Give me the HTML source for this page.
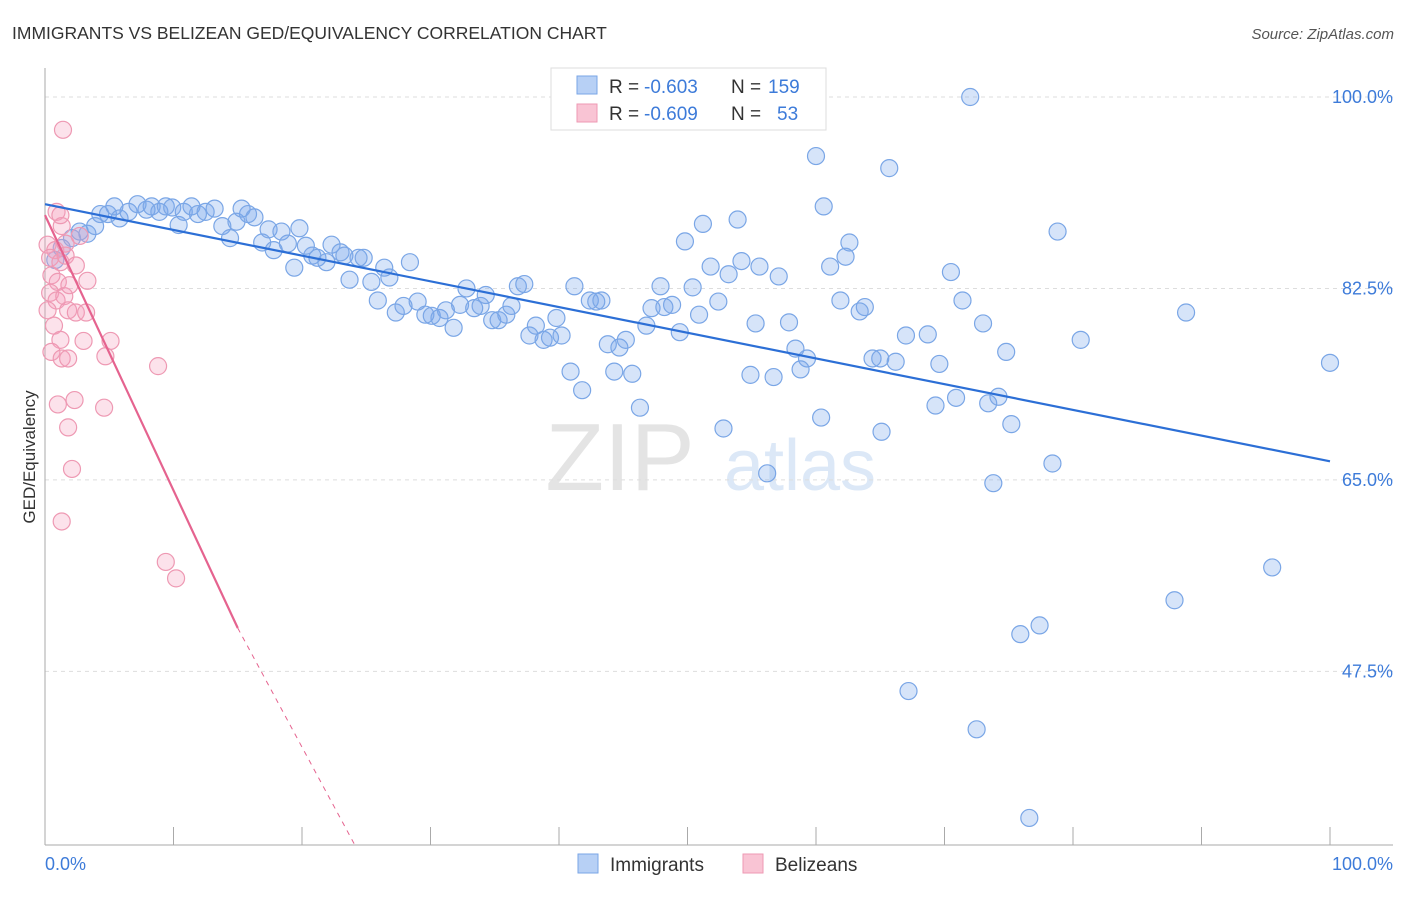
<!DOCTYPE html>
<html><head><meta charset="utf-8"><style>
body{margin:0;background:#fff;font-family:"Liberation Sans",sans-serif;}
svg text{font-family:"Liberation Sans",sans-serif;}
</style></head><body>
<svg id="c" width="1406" height="892" xmlns="http://www.w3.org/2000/svg">
<text x="12" y="39" font-size="17.5" fill="#333">IMMIGRANTS VS BELIZEAN GED/EQUIVALENCY CORRELATION CHART</text>
<text x="1394" y="39" font-size="15" fill="#555" text-anchor="end" font-style="italic">Source: ZipAtlas.com</text>
<text x="620" y="490" font-size="96" fill="#e4e4e4" font-family="Liberation Serif" text-anchor="middle">ZIP</text>
<text x="800" y="490" font-size="72" fill="#dce8f7" text-anchor="middle">atlas</text>
<g id="grid"></g><g id="axes"></g><g id="pts"></g><g id="trend"></g>
<text transform="translate(35,457) rotate(-90)" font-size="17" fill="#333" text-anchor="middle">GED/Equivalency</text>
<g>
<rect x="551" y="68" width="275" height="62" fill="#fff" stroke="#ddd"/>
<rect x="577" y="76" width="20" height="18" fill="#b7d0f5" stroke="#7aa6e6"/>
<rect x="577" y="104" width="20" height="18" fill="#f9c4d4" stroke="#ee99b3"/>
<text x="609" y="93" font-size="19" fill="#333">R =</text>
<text x="644" y="93" font-size="19" fill="#3d7bd9">-0.603</text>
<text x="731" y="93" font-size="19" fill="#333">N =</text>
<text x="768" y="93" font-size="19" fill="#3d7bd9">159</text>
<text x="609" y="120" font-size="19" fill="#333">R =</text>
<text x="644" y="120" font-size="19" fill="#3d7bd9">-0.609</text>
<text x="731" y="120" font-size="19" fill="#333">N =</text>
<text x="777" y="120" font-size="19" fill="#3d7bd9">53</text>
</g>
<g>
<rect x="578" y="854" width="20" height="19" fill="#b7d0f5" stroke="#7aa6e6"/>
<text x="610" y="871" font-size="19" fill="#333">Immigrants</text>
<rect x="743" y="854" width="20" height="19" fill="#f9c4d4" stroke="#ee99b3"/>
<text x="775" y="871" font-size="19" fill="#333">Belizeans</text>
</g>
</svg>
<script>
const yTicks=[100,82.5,65,47.5];
const yTickLabels=["100.0%","82.5%","65.0%","47.5%"];
const xTickLabels=["0.0%","100.0%"];
const blueX=[72.0,60.0,65.7,60.6,53.9,51.2,49.8,62.6,78.8,62.3,61.1,51.8,54.2,55.6,53.2,57.1,70.5,47.9,50.4,61.9,71.4,52.4,63.8,63.4,47.2,48.2,48.8,50.9,55.3,57.9,73.0,88.8,46.8,49.4,67.0,68.7,80.6,58.4,59.3,58.8,64.4,65.0,66.2,69.6,74.8,100.0,54.9,56.7,69.3,70.9,73.4,74.2,75.2,60.4,65.1,52.8,56.2,73.8,78.4,95.5,87.9,77.4,75.9,67.2,72.5,76.6,
0.8,1.3,2.1,2.7,3.3,3.9,4.3,4.9,5.4,5.8,6.5,7.2,7.9,8.3,8.9,9.4,9.9,10.4,10.8,11.4,11.9,12.5,13.2,13.8,14.4,14.9,15.3,15.8,16.3,16.9,17.4,17.8,18.4,18.9,19.4,19.8,20.3,20.8,21.2,21.9,22.3,23.0,23.3,23.7,24.4,24.8,25.4,25.9,26.4,26.8,27.3,27.9,28.4,29.0,29.6,30.1,30.7,31.2,31.8,32.3,32.8,33.4,33.9,34.3,34.8,35.3,35.9,36.3,36.8,37.3,37.7,38.2,38.8,39.3,39.8,40.2,40.9,41.2,41.8,42.4,42.9,43.3,43.8,44.3,44.7,45.2,45.7,46.3];
const blueY=[100.0,94.6,93.5,90.0,88.8,88.4,86.8,86.7,87.7,85.4,84.5,84.5,85.0,84.5,83.8,83.6,84.0,82.7,82.6,81.4,81.4,81.3,80.8,80.4,80.7,80.8,81.0,80.1,79.3,79.4,79.3,80.3,79.1,78.5,78.2,78.3,77.8,77.0,76.1,75.1,76.1,76.1,75.8,75.6,76.7,75.7,74.6,74.4,71.8,72.5,72.0,72.6,70.1,70.7,69.4,69.7,65.6,64.7,66.5,57.0,54.0,51.7,50.9,45.7,42.2,34.1,
85.1,86.2,87.1,87.7,87.5,88.2,89.3,89.3,90.0,88.9,89.5,90.2,89.7,90.0,89.5,90.0,89.9,88.3,89.5,90.0,89.3,89.5,89.8,88.2,87.1,88.6,89.8,89.3,89.0,86.7,87.9,86.0,87.7,86.6,84.4,88.0,86.4,85.5,85.3,84.9,86.5,85.8,85.5,83.3,85.3,85.3,83.1,81.4,84.4,83.5,80.3,80.9,84.9,81.3,80.1,80.0,79.8,80.5,78.9,81.0,82.5,80.7,80.9,81.9,79.6,79.6,80.1,80.9,82.7,82.9,78.2,79.1,77.8,78.0,79.8,78.2,74.9,82.7,73.2,81.4,81.3,81.4,77.4,74.9,77.1,77.8,74.7,71.6];
const pinkX=[1.4,0.9,1.3,0.2,0.8,1.6,0.4,1.2,1.6,0.5,1.0,2.4,3.3,0.4,0.9,1.5,1.8,0.2,0.7,2.4,3.2,3.0,5.1,1.2,0.5,1.3,1.8,4.7,8.8,1.0,2.3,4.6,1.8,2.1,1.3,9.4,10.2,2.7,1.9,1.2];
const pinkY=[97.0,89.5,88.2,86.5,86.0,86.6,85.3,84.9,85.5,83.7,83.1,84.6,83.2,82.1,81.4,81.8,80.5,80.5,79.1,80.3,80.3,77.7,77.7,77.8,76.7,76.1,76.1,76.3,75.4,71.9,72.3,71.6,69.8,66.0,61.2,57.5,56.0,87.3,82.8,89.2];
const blueTrend=[90.2,66.7];
const pinkTrend=[89.2,-2.516];
const NS="http://www.w3.org/2000/svg";
const X=v=>45+v*12.85, Y=v=>97+(100-v)*10.94;
function mk(t,a,p){const e=document.createElementNS(NS,t);for(const k in a)e.setAttribute(k,a[k]);p.appendChild(e);return e;}
const g=document.getElementById('grid'),ax=document.getElementById('axes'),pts=document.getElementById('pts'),tr=document.getElementById('trend');
yTicks.forEach((t,i)=>{const l=mk('line',{x1:45,x2:1393,y1:Y(t),y2:Y(t),stroke:'#ddd','stroke-dasharray':'4,4'},g);


const tx=mk('text',{x:1393,y:Y(t)+6,'font-size':18,fill:'#3d7bd9','text-anchor':'end'},ax);tx.textContent=yTickLabels[i];

});
mk('line',{x1:45,x2:45,y1:68,y2:845,stroke:'#aaa'},ax);
mk('line',{x1:45,x2:1393,y1:845,y2:845,stroke:'#aaa'},ax);
for(let i=0;i<=10;i++){const t=mk('line',{x1:X(i*10),x2:X(i*10),y1:827,y2:845,stroke:'#aaa'},ax);

}
[[0,'start',45],[100,'end',1393]].forEach((d,i)=>{const tx=mk('text',{x:d[2],y:870,'font-size':18,fill:'#3d7bd9','text-anchor':d[1]},ax);tx.textContent=xTickLabels[i];

});
blueX.forEach((v,i)=>{const c=mk('circle',{cx:X(v),cy:Y(blueY[i]),r:8.5,fill:'rgba(120,165,235,0.3)',stroke:'#7aa6e6','stroke-width':1.2},pts);

});
pinkX.forEach((v,i)=>{const c=mk('circle',{cx:X(v),cy:Y(pinkY[i]),r:8.5,fill:'rgba(245,160,190,0.3)',stroke:'#ee99b3','stroke-width':1.2},pts);

});
const bl=mk('line',{x1:X(0),y1:Y(blueTrend[0]),x2:X(100),y2:Y(blueTrend[1]),stroke:'#2c6fd6','stroke-width':2.2},tr);


const xs=15,xe=24.1;
const pl=mk('line',{x1:X(0),y1:Y(pinkTrend[0]),x2:X(xs),y2:Y(pinkTrend[0]+pinkTrend[1]*xs),stroke:'#e5638f','stroke-width':2.2},tr);


const pd=mk('line',{x1:X(xs),y1:Y(pinkTrend[0]+pinkTrend[1]*xs),x2:X(xe),y2:Y(31.65),stroke:'#e5638f','stroke-width':1,'stroke-dasharray':'5,5'},tr);


</script>
</body></html>
